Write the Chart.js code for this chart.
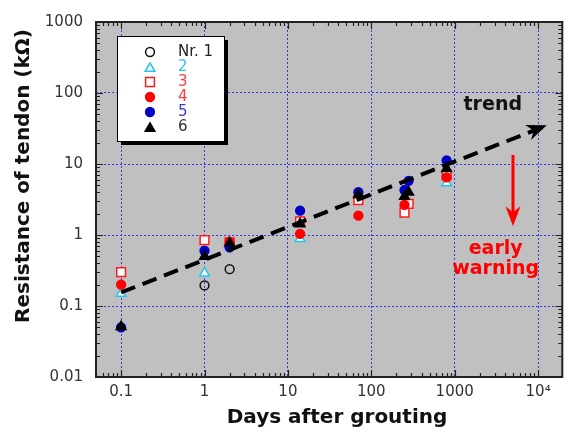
<!DOCTYPE html>
<html>
<head>
<meta charset="utf-8">
<title>Resistance of tendon</title>
<script src="https://cdn.jsdelivr.net/npm/chart.js@4.4.1/dist/chart.umd.min.js"></script>
<style>
  html, body { margin: 0; padding: 0; background: #ffffff; }
  canvas { display: block; }
</style>
</head>
<body>
<canvas id="chart" width="570" height="432"></canvas>
<script>
// Tick labels
const xTickValues = [0.1, 1, 10, 100, 1000, 10000];
const xTickLabels = ['0.1', '1', '10', '100', '1000', '10⁴'];
const yTickValues = [0.01, 0.1, 1, 10, 100, 1000];
const yTickLabels = ['0.01', '0.1', '1', '10', '100', '1000'];

// Tendons
const seriesNames = ['Nr. 1', '2', '3', '4', '5', '6'];

// Days after grouting / resistance (kOhm) per tendon
const days1 = [1, 2];
const res1 = [0.195, 0.33];
const days2 = [0.1, 1, 14, 800];
const res2 = [0.15, 0.29, 0.89, 5.4];
const days3 = [0.1, 1, 2, 14, 70, 250, 280, 800];
const res3 = [0.30, 0.85, 0.79, 1.55, 3.1, 2.07, 2.75, 7.0];
const days4 = [0.1, 2, 14, 70, 250, 800];
const res4 = [0.20, 0.80, 1.04, 1.87, 2.65, 6.5];
const days5 = [0.1, 1, 2, 14, 70, 250, 280, 800];
const res5 = [0.05, 0.6, 0.67, 2.2, 4.0, 4.3, 5.8, 11.2];
const days6 = [0.1, 1, 2, 14, 70, 250, 280, 800];
const res6 = [0.051, 0.5, 0.77, 1.43, 3.7, 3.5, 4.0, 8.6];

// Trend line
const trendDays = [0.1, 12000];
const trendRes = [0.155, 34];

const seriesDays = [days1, days2, days3, days4, days5, days6];
const seriesRes = [res1, res2, res3, res4, res5, res6];

// Marker looks
const styles = [
    { shape: 'circle',   r: 4.4, stroke: '#111111', fill: 'rgba(0,0,0,0)', text: '#222222' },
    { shape: 'triangle', r: 5.6, stroke: '#1ec8f0', fill: '#ffffff',       text: '#2cc4f4' },
    { shape: 'rect',     r: 6.2, stroke: '#ff1a1a', fill: '#ffffff',       text: '#ff3b3b' },
    { shape: 'circle',   r: 4.4, stroke: '#ff0000', fill: '#ff0000',       text: '#ff3b3b' },
    { shape: 'circle',   r: 4.4, stroke: '#0000c8', fill: '#0000c8',       text: '#3b3bc8' },
    { shape: 'triangle', r: 5.6, stroke: '#000000', fill: '#000000',       text: '#333333' }
];

const FONT = '"DejaVu Sans", sans-serif';

const datasets = seriesNames.map((name, i) => ({
    label: name,
    data: seriesDays[i].map((d, j) => ({ x: d, y: seriesRes[i][j] })),
    pointStyle: styles[i].shape,
    pointRadius: styles[i].r,
    pointHoverRadius: styles[i].r,
    borderColor: styles[i].stroke,
    backgroundColor: styles[i].fill,
    borderWidth: 1.5,
    order: 10 - i
}));

datasets.push({
    type: 'line',
    label: 'trend',
    data: trendDays.map((d, j) => ({ x: d, y: trendRes[j] })),
    borderColor: '#000000',
    borderWidth: 4,
    borderDash: [15, 8],
    borderCapStyle: 'butt',
    pointRadius: 0,
    fill: false,
    showLine: true,
    order: 0
});

// Draw a marker like Chart.js does (for the legend box)
function drawMarker(ctx, st, x, y) {
    const r = st.r;
    ctx.beginPath();
    if (st.shape === 'circle') {
        ctx.arc(x, y, r, 0, Math.PI * 2);
    } else if (st.shape === 'rect') {
        const s = r * Math.SQRT1_2;
        ctx.rect(x - s, y - s, 2 * s, 2 * s);
    } else {
        let rad = 0;
        ctx.moveTo(x + Math.sin(rad) * r, y - Math.cos(rad) * r);
        rad += Math.PI * 2 / 3;
        ctx.lineTo(x + Math.sin(rad) * r, y - Math.cos(rad) * r);
        rad += Math.PI * 2 / 3;
        ctx.lineTo(x + Math.sin(rad) * r, y - Math.cos(rad) * r);
        ctx.closePath();
    }
    ctx.fillStyle = st.fill;
    ctx.fill();
    ctx.lineWidth = 1.5;
    ctx.strokeStyle = st.stroke;
    ctx.stroke();
}

function logTicks(min, max) {
    const out = [];
    for (let e = Math.floor(Math.log10(min)); e <= Math.ceil(Math.log10(max)); e++) {
        for (let m = 1; m <= 9; m++) {
            const v = m * Math.pow(10, e);
            if (v >= min * 0.999 && v <= max * 1.001) out.push({ v: v, major: m === 1 });
        }
    }
    return out;
}

function arrowHead(ctx, tipX, tipY, dirX, dirY, len, half) {
    const n = Math.hypot(dirX, dirY);
    const ux = dirX / n, uy = dirY / n;
    const px = -uy, py = ux;
    const bx = tipX - ux * len, by = tipY - uy * len;
    const nx = tipX - ux * len * 0.7, ny = tipY - uy * len * 0.7;
    ctx.beginPath();
    ctx.moveTo(tipX, tipY);
    ctx.lineTo(bx + px * half, by + py * half);
    ctx.lineTo(nx, ny);
    ctx.lineTo(bx - px * half, by - py * half);
    ctx.closePath();
    ctx.fill();
}

const decorPlugin = {
    id: 'decor',
    beforeDraw(chart) {
        const { ctx, chartArea: a } = chart;
        ctx.save();
        ctx.fillStyle = '#ffffff';
        ctx.fillRect(0, 0, chart.width, chart.height);
        ctx.fillStyle = '#c0c0c0';
        ctx.fillRect(a.left, a.top, a.right - a.left, a.bottom - a.top);
        ctx.restore();
    },
    afterDatasetsDraw(chart) {
        const { ctx } = chart;
        const xs = chart.scales.x, ys = chart.scales.y;
        ctx.save();

        // arrow head of the trend line
        const meta = chart.getDatasetMeta(datasets.length - 1);
        const p0 = meta.data[0], p1 = meta.data[meta.data.length - 1];
        ctx.fillStyle = '#000000';
        arrowHead(ctx, p1.x + 2, p1.y - 1, p1.x - p0.x, p1.y - p0.y, 20, 8);

        // early warning arrow
        const ax = xs.getPixelForValue(5000);
        const ay0 = ys.getPixelForValue(13.4);
        const ay1 = ys.getPixelForValue(1.33);
        ctx.strokeStyle = '#ff0000';
        ctx.fillStyle = '#ff0000';
        ctx.lineWidth = 3;
        ctx.beginPath();
        ctx.moveTo(ax, ay0);
        ctx.lineTo(ax, ay1 - 12);
        ctx.stroke();
        arrowHead(ctx, ax, ay1, 0, 1, 20, 7.5);

        // texts
        ctx.textAlign = 'center';
        ctx.textBaseline = 'middle';
        ctx.font = 'bold 19px ' + FONT;
        ctx.fillStyle = '#111111';
        ctx.fillText('trend', xs.getPixelForValue(2860), ys.getPixelForValue(68));
        ctx.fillStyle = '#ff0000';
        ctx.fillText('early', xs.getPixelForValue(3100), ys.getPixelForValue(0.64));
        ctx.fillText('warning', xs.getPixelForValue(3100), ys.getPixelForValue(0.33));
        ctx.restore();
    },
    afterDraw(chart) {
        const { ctx, chartArea: a } = chart;
        const xs = chart.scales.x, ys = chart.scales.y;
        ctx.save();

        // frame
        ctx.strokeStyle = '#222222';
        ctx.lineWidth = 2;
        ctx.strokeRect(a.left, a.top, a.right - a.left, a.bottom - a.top);

        // inward ticks
        ctx.lineWidth = 1.2;
        ctx.beginPath();
        logTicks(xs.min, xs.max).forEach(t => {
            const px = Math.round(xs.getPixelForValue(t.v)) + 0.5;
            const len = t.major ? 7 : 4;
            ctx.moveTo(px, a.bottom); ctx.lineTo(px, a.bottom - len);
            ctx.moveTo(px, a.top); ctx.lineTo(px, a.top + len);
        });
        logTicks(ys.min, ys.max).forEach(t => {
            const py = Math.round(ys.getPixelForValue(t.v)) + 0.5;
            const len = t.major ? 7 : 4;
            ctx.moveTo(a.left, py); ctx.lineTo(a.left + len, py);
            ctx.moveTo(a.right, py); ctx.lineTo(a.right - len, py);
        });
        ctx.stroke();

        // axis titles
        ctx.fillStyle = '#111111';
        ctx.font = 'bold 20px ' + FONT;
        ctx.textAlign = 'center';
        ctx.textBaseline = 'middle';
        ctx.fillText('Days after grouting', 337, 418);
        ctx.save();
        ctx.translate(24, 176);
        ctx.rotate(-Math.PI / 2);
        ctx.fillText('Resistance of tendon (kΩ)', 0, 0);
        ctx.restore();

        // legend box
        const bx = 117, by = 36, bw = 107, bh = 105;
        ctx.fillStyle = '#000000';
        ctx.fillRect(bx + 4, by + 4, bw, bh);
        ctx.fillStyle = '#ffffff';
        ctx.fillRect(bx, by, bw, bh);
        ctx.strokeStyle = '#000000';
        ctx.lineWidth = 1;
        ctx.strokeRect(bx + 0.5, by + 0.5, bw, bh);
        ctx.font = '15px ' + FONT;
        ctx.textAlign = 'left';
        ctx.textBaseline = 'middle';
        seriesNames.forEach((name, i) => {
            const ry = by + 16 + i * 15;
            drawMarker(ctx, styles[i], 150, ry + (styles[i].shape === 'triangle' ? 1.5 : 0));
            ctx.fillStyle = styles[i].text;
            ctx.fillText(name, 178, ry);
        });
        ctx.restore();
    }
};

new Chart(document.getElementById('chart'), {
    type: 'scatter',
    data: { datasets: datasets },
    options: {
        responsive: false,
        animation: false,
        layout: { padding: { top: 16, right: 4, left: 0, bottom: 0 } },
        plugins: {
            legend: { display: false },
            tooltip: { enabled: false }
        },
        scales: {
            x: {
                type: 'logarithmic',
                position: 'bottom',
                min: 0.05,
                max: 19500,
                afterFit: s => { s.height = 55; },
                afterBuildTicks: s => { s.ticks = xTickValues.map(v => ({ value: v })); },
                grid: { color: '#3a3ae6', lineWidth: 1, drawTicks: false },
                border: { display: false, dash: [2, 2] },
                ticks: {
                    padding: 6,
                    maxRotation: 0,
                    autoSkip: false,
                    color: '#333333',
                    font: { family: FONT, size: 15 },
                    callback: (v, i) => xTickLabels[i]
                }
            },
            y: {
                type: 'logarithmic',
                min: 0.01,
                max: 1000,
                afterFit: s => { s.width = 96; },
                afterBuildTicks: s => { s.ticks = yTickValues.map(v => ({ value: v })); },
                grid: { color: '#3a3ae6', lineWidth: 1, drawTicks: false },
                border: { display: false, dash: [2, 2] },
                ticks: {
                    padding: 13,
                    autoSkip: false,
                    color: '#333333',
                    font: { family: FONT, size: 15 },
                    callback: (v, i) => yTickLabels[i]
                }
            }
        }
    },
    plugins: [decorPlugin]
});
</script>
</body>
</html>
